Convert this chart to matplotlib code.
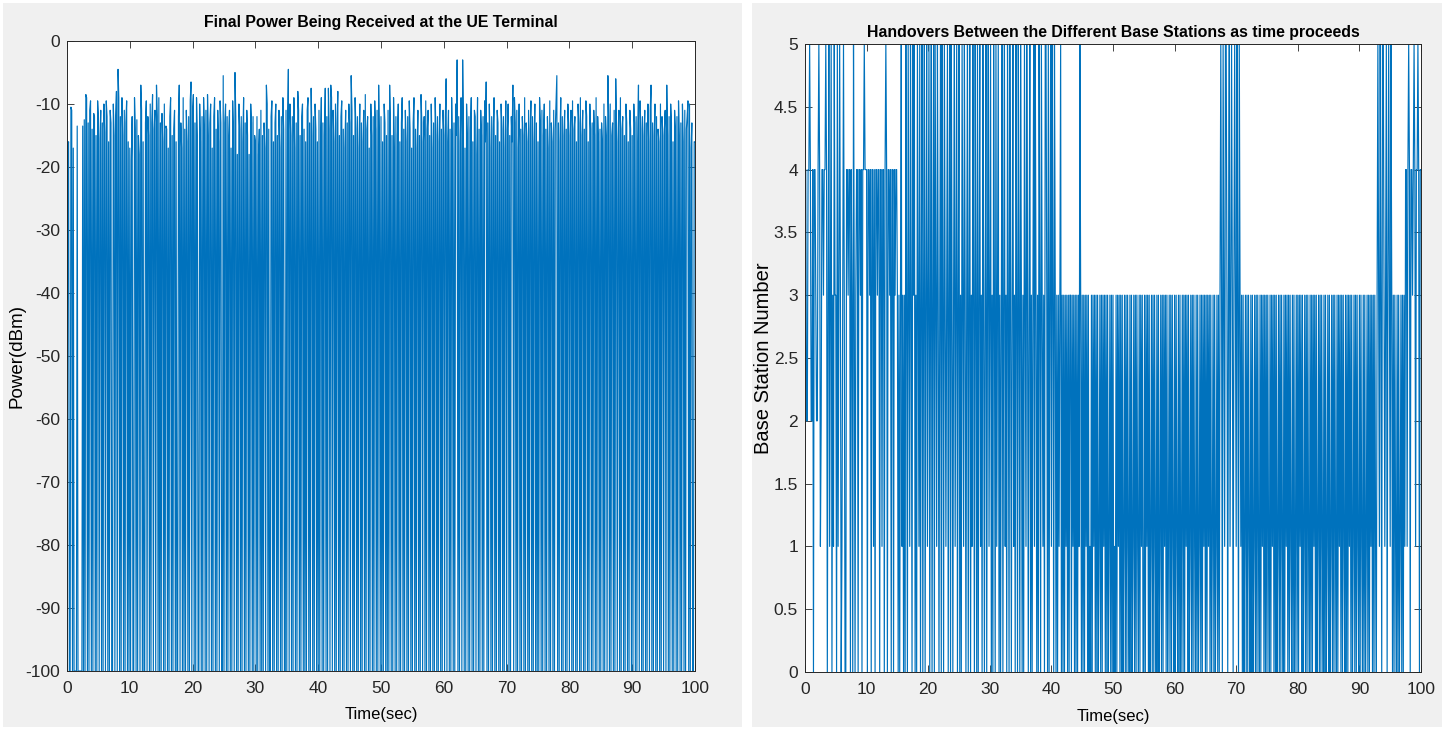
import numpy as np
import matplotlib
matplotlib.use('Agg')
import matplotlib.pyplot as plt
from matplotlib.patches import Rectangle

plt.rcParams['font.family'] = ['Liberation Sans', 'DejaVu Sans']
plt.rcParams['axes.unicode_minus'] = False

# Received power at the UE (dBm), one sample every 0.125 s; -100 means no usable signal
power_dbm = [
    -100, -17, -16, -100, -100, -10.5, -11, -100, -17, -100, -100, -100, -100, -13.5, -100, -100, -100, -100, -100, -100,
    -13.5, -100, -12.5, -100, -8.5, -9, -100, -13, -100, -11, -9.5, -100, -14, -100, -11.5, -12, -100, -15, -100, -9.5,
    -12, -100, -15.5, -11, -100, -13, -100, -10, -14.5, -100, -9.5, -12, -100, -16, -100, -11, -13, -100, -100, -10,
    -15, -100, -12, -8, -100, -4.5, -9, -100, -12, -100, -9, -15, -100, -11, -100, -13, -9.5, -100, -16, -100,
    -17, -100, -19, -12, -100, -100, -9, -14, -100, -12.5, -100, -15, -18, -100, -7, -11, -100, -16, -100, -100,
    -13, -9.5, -100, -12, -15, -100, -10, -100, -13, -8.5, -100, -14, -11, -100, -7, -12, -100, -9, -100, -13,
    -100, -11.5, -16, -100, -10, -100, -13.5, -14, -100, -17, -100, -12, -9, -100, -15, -100, -14, -11, -100, -16,
    -100, -100, -12, -7, -100, -13, -17, -100, -9, -100, -14, -100, -11, -16, -100, -12, -100, -9.5, -6.5, -100,
    -11, -8.5, -100, -13, -100, -9, -15, -100, -100, -10, -16, -100, -12, -100, -9, -14, -100, -11, -100, -8.5,
    -15, -100, -13, -10, -100, -17, -100, -12, -9, -100, -14, -100, -11, -16, -100, -9.5, -13, -100, -100, -5.5,
    -100, -13, -10, -100, -12, -100, -15, -11, -100, -17, -100, -9.5, -14, -100, -5, -12, -100, -18, -100, -10,
    -14, -100, -12, -100, -16, -9, -100, -13, -100, -11, -15, -100, -18, -100, -10, -13, -100, -12, -100, -15,
    -16, -100, -12, -100, -18, -14, -100, -11, -100, -15, -100, -13, -17, -100, -7, -10, -100, -14, -100, -100,
    -12, -9.5, -100, -16, -100, -13, -10, -100, -15, -100, -11, -17, -100, -12, -100, -9, -14, -100, -100, -11,
    -100, -13, -4.5, -100, -10, -15, -100, -12, -100, -9, -17, -100, -13, -100, -8, -11, -100, -15, -100, -12,
    -10, -100, -14, -100, -16, -100, -11, -9, -100, -13, -100, -7.5, -15, -100, -12, -100, -10, -14, -100, -16,
    -100, -11, -100, -16, -9, -100, -13, -100, -15, -7.5, -100, -12, -100, -7.5, -14, -100, -7, -9, -100, -11,
    -16, -100, -10, -100, -13, -8, -100, -15, -100, -12, -9.5, -100, -14, -100, -17, -11, -100, -13, -100, -10,
    -13, -100, -5.5, -11, -100, -15, -100, -9, -14, -100, -12, -100, -17, -10, -100, -13, -100, -16, -11, -100,
    -8.5, -100, -14, -12, -100, -17, -100, -10, -15, -100, -12, -100, -9.5, -14, -100, -11, -100, -7, -16, -100,
    -12, -100, -16, -100, -10, -13, -100, -15, -100, -11, -100, -7, -13, -100, -15, -100, -9, -17, -100, -12,
    -100, -15, -10, -100, -16, -100, -13, -9, -100, -14, -100, -11, -16, -100, -12, -100, -9.5, -14, -100, -17,
    -100, -13, -9, -100, -14, -100, -17, -11, -100, -15, -100, -8.5, -13, -100, -16, -12, -100, -9.5, -100, -14,
    -11, -100, -15, -100, -10, -17, -100, -13, -100, -9, -15, -100, -12, -100, -16, -10, -100, -14, -100, -11,
    -15, -100, -12, -6, -100, -16, -11, -100, -14, -100, -9, -17, -100, -13, -100, -10, -15, -3, -100, -12,
    -100, -16, -9, -100, -3, -13, -100, -17, -100, -10, -15, -100, -12, -100, -14, -9, -100, -16, -100, -11,
    -12, -100, -18, -9, -100, -14, -100, -11, -15, -100, -12, -100, -9.5, -16, -6.5, -100, -13, -100, -10, -17,
    -100, -12, -100, -14, -9, -100, -15, -100, -11, -13, -100, -16, -100, -10, -14, -100, -12, -100, -17, -9.5,
    -100, -14, -10, -100, -15, -100, -12, -16, -7, -100, -9, -13, -100, -11, -100, -17, -10, -100, -14, -100,
    -12, -15, -100, -9, -100, -13, -16, -100, -11, -100, -14, -9.5, -100, -12, -100, -16, -10, -100, -13, -100,
    -16, -100, -9, -13, -100, -11, -100, -15, -10, -100, -14, -100, -12, -17, -100, -9.5, -100, -13, -16, -100,
    -11, -100, -14, -10, -5.5, -100, -13, -100, -16, -9, -100, -12, -100, -15, -11, -100, -14, -100, -10, -13,
    -100, -15, -11, -100, -9.5, -100, -14, -12, -100, -16, -100, -10, -13, -100, -9, -100, -15, -11, -100, -14,
    -100, -9.5, -12, -100, -16, -100, -10, -14, -100, -13, -100, -11, -15, -100, -9, -100, -12, -16, -100, -14,
    -100, -13, -16, -100, -10, -100, -12, -15, -100, -5.5, -12, -100, -10, -100, -15, -13, -100, -11, -100, -6,
    -13, -100, -16, -11, -100, -9, -100, -14, -12, -100, -15, -100, -10, -13, -100, -16, -100, -11, -14, -100,
    -15, -100, -10, -13, -100, -12, -100, -16, -7, -100, -9.5, -14, -100, -12, -100, -15, -11, -100, -13, -100,
    -10, -16, -100, -11, -7, -100, -13, -100, -15, -10, -100, -12, -100, -14, -16, -100, -10, -100, -12, -15,
    -100, -14, -11, -100, -7, -15, -100, -12, -100, -10, -13, -100, -16, -100, -11, -14, -100, -12, -100, -9.5,
    -15, -100, -13, -100, -10, -16, -100, -11, -100, -14, -12, -9.5, -100, -10, -100, -17, -13, -100, -100, -16,
    -16,
]

# Serving base station number, same sampling
base_station = [
    4, 4, 2, 2, 4, 4, 5, 4, 2, 2, 4, 0, 4, 4, 3, 2, 2, 4, 5, 4, 1, 2, 4, 4, 3, 4, 4, 5, 4, 0, 3, 5, 1, 3, 5, 0, 3, 1, 5, 3,
    3, 0, 5, 1, 3, 5, 3, 0, 1, 3, 5, 3, 0, 0, 4, 4, 3, 4, 4, 0, 4, 3, 0, 5, 3, 0, 3, 4, 4, 0, 4, 4, 3, 4, 0, 4, 4, 5, 4, 4,
    4, 0, 4, 4, 3, 4, 0, 4, 4, 1, 4, 0, 4, 4, 3, 4, 4, 0, 4, 4, 1, 4, 4, 0, 4, 5, 4, 0, 4, 4, 3, 4, 0, 4, 4, 0, 4, 3, 4, 4,
    3, 0, 3, 0, 3, 5, 1, 3, 0, 3, 0, 5, 3, 0, 5, 3, 1, 5, 3, 0, 5, 3, 5, 0, 3, 0, 5, 3, 1, 5, 0, 3, 5, 0, 3, 5, 0, 3, 5, 1,
    3, 5, 0, 3, 5, 0, 3, 5, 0, 5, 3, 1, 5, 3, 0, 3, 5, 0, 5, 3, 0, 5, 3, 1, 3, 5, 0, 3, 5, 0, 5, 3, 0, 3, 5, 1, 3, 5, 0, 3,
    5, 0, 3, 0, 5, 3, 1, 5, 3, 0, 3, 5, 0, 3, 5, 0, 3, 1, 5, 3, 0, 5, 3, 0, 5, 0, 3, 5, 1, 3, 0, 5, 3, 0, 3, 5, 0, 3, 5, 1,
    3, 5, 0, 3, 0, 5, 3, 0, 5, 1, 3, 5, 0, 3, 0, 3, 5, 0, 3, 5, 1, 3, 0, 5, 3, 0, 5, 3, 0, 3, 5, 1, 3, 0, 5, 3, 0, 5, 3, 0,
    5, 3, 0, 3, 0, 5, 3, 1, 5, 3, 0, 3, 5, 0, 3, 0, 3, 5, 1, 5, 3, 0, 3, 0, 5, 3, 0, 5, 3, 1, 3, 0, 5, 5, 3, 0, 5, 0, 3, 5,
    1, 5, 3, 0, 5, 3, 0, 3, 0, 3, 1, 3, 5, 0, 3, 0, 3, 0, 3, 1, 3, 0, 3, 0, 3, 3, 0, 3, 1, 3, 0, 3, 0, 3, 0, 3, 1, 5, 3, 0,
    3, 0, 3, 0, 3, 1, 3, 0, 3, 0, 1, 0, 3, 0, 3, 1, 3, 0, 3, 0, 3, 0, 1, 3, 0, 3, 0, 3, 1, 3, 0, 3, 0, 3, 0, 1, 3, 0, 3, 0,
    3, 0, 1, 0, 3, 0, 3, 1, 3, 0, 3, 0, 3, 0, 1, 3, 0, 3, 0, 3, 1, 0, 3, 0, 3, 0, 1, 3, 0, 3, 0, 3, 1, 0, 3, 0, 3, 1, 3, 0,
    0, 3, 0, 3, 1, 3, 0, 3, 0, 1, 3, 0, 3, 0, 3, 1, 0, 3, 0, 3, 0, 1, 3, 0, 3, 0, 3, 1, 3, 0, 3, 0, 1, 3, 0, 3, 0, 3, 1, 0,
    3, 0, 3, 1, 0, 3, 0, 3, 0, 1, 3, 0, 3, 0, 3, 1, 3, 0, 3, 0, 1, 3, 0, 3, 0, 3, 1, 0, 3, 0, 3, 0, 1, 3, 0, 3, 0, 3, 1, 3,
    0, 3, 0, 3, 1, 3, 0, 3, 0, 1, 3, 0, 3, 0, 1, 3, 0, 3, 0, 3, 5, 3, 0, 5, 3, 1, 5, 5, 3, 0, 3, 5, 1, 3, 5, 3, 0, 3, 5, 3,
    1, 5, 3, 0, 5, 3, 1, 3, 0, 3, 0, 1, 3, 0, 3, 0, 3, 1, 0, 3, 0, 3, 0, 1, 3, 0, 3, 0, 3, 1, 0, 3, 0, 3, 1, 3, 0, 3, 0, 3,
    0, 3, 1, 0, 3, 0, 3, 1, 3, 0, 3, 0, 3, 0, 1, 3, 0, 3, 0, 3, 1, 0, 3, 0, 3, 1, 3, 0, 3, 0, 3, 1, 0, 3, 0, 3, 0, 1, 3, 0,
    3, 0, 3, 1, 3, 0, 3, 0, 1, 3, 0, 3, 0, 3, 1, 0, 3, 0, 3, 0, 3, 1, 3, 0, 3, 0, 1, 3, 0, 3, 0, 3, 1, 0, 3, 0, 3, 0, 1, 3,
    0, 3, 0, 1, 3, 0, 3, 0, 3, 1, 0, 3, 0, 3, 1, 3, 0, 3, 0, 3, 1, 0, 3, 0, 3, 0, 3, 1, 3, 0, 3, 0, 1, 3, 0, 3, 0, 3, 1, 0,
    3, 0, 3, 1, 0, 3, 0, 3, 0, 1, 3, 0, 3, 0, 3, 1, 3, 0, 3, 0, 3, 1, 0, 3, 5, 3, 1, 5, 3, 0, 5, 5, 3, 1, 3, 5, 0, 3, 5, 3,
    1, 5, 3, 0, 3, 0, 3, 1, 0, 3, 0, 3, 0, 1, 3, 0, 3, 0, 3, 1, 4, 4, 1, 4, 5, 4, 0, 4, 4, 3, 4, 5, 4, 1, 4, 4, 5, 4, 0, 4,
    4,
]

t_power = np.linspace(0, 100, len(power_dbm))
t_bs = np.linspace(0, 100, len(base_station))

line_color = '#0072BD'
axis_color = '#262626'
W, H = 1447, 730

fig = plt.figure(figsize=(W / 100, H / 100), dpi=100, facecolor='white')

# grey window backgrounds of the two figures
fig.patches.append(Rectangle((3 / W, 3 / H), 739 / W, 724 / H, transform=fig.transFigure,
                             facecolor='#f0f0f0', edgecolor='none', zorder=-10))
fig.patches.append(Rectangle((752 / W, 3 / H), 690 / W, 724 / H, transform=fig.transFigure,
                             facecolor='#f0f0f0', edgecolor='none', zorder=-10))

ax1 = fig.add_axes([67 / W, 1 - 671 / H, 628 / W, 630 / H])
ax2 = fig.add_axes([805 / W, 1 - 672 / H, 616 / W, 628 / H])

ax1.plot(t_power, power_dbm, color=line_color, linewidth=0.85)
ax1.set_xlim(0, 100)
ax1.set_ylim(-100, 0)
ax1.set_xticks(np.arange(0, 101, 10))
ax1.set_yticks(np.arange(-100, 1, 10))
ax1.set_title('Final Power Being Received at the UE Terminal', fontsize=11.4, fontweight='bold', pad=10)
ax1.set_xlabel('Time(sec)', fontsize=12)
ax1.set_ylabel('Power(dBm)', fontsize=13.5)
ax1.xaxis.set_label_coords(0.5, -0.057)
ax1.yaxis.set_label_coords(-0.066, 0.5)

ax2.plot(t_bs, base_station, color=line_color, linewidth=0.85)
ax2.set_xlim(0, 100)
ax2.set_ylim(0, 5)
ax2.set_xticks(np.arange(0, 101, 10))
ax2.set_yticks(np.arange(0, 5.01, 0.5))
ax2.set_yticklabels(['0', '0.5', '1', '1.5', '2', '2.5', '3', '3.5', '4', '4.5', '5'])
ax2.set_title('Handovers Between the Different Base Stations as time proceeds', fontsize=11.4,
              fontweight='bold', pad=5)
ax2.set_xlabel('Time(sec)', fontsize=12)
ax2.set_ylabel('Base Station Number', fontsize=14.5)
ax2.xaxis.set_label_coords(0.5, -0.059)
ax2.yaxis.set_label_coords(-0.052, 0.5)

for ax in (ax1, ax2):
    ax.set_facecolor('white')
    ax.tick_params(direction='in', top=True, right=True, length=5, width=0.6,
                   color=axis_color, labelsize=12.5, labelcolor=axis_color)
    ax.tick_params(axis='x', pad=7)
    ax.tick_params(axis='y', pad=5)
    for s in ax.spines.values():
        s.set_color(axis_color)
        s.set_linewidth(0.7)

fig.savefig('out.png', dpi=100, facecolor=fig.get_facecolor())
